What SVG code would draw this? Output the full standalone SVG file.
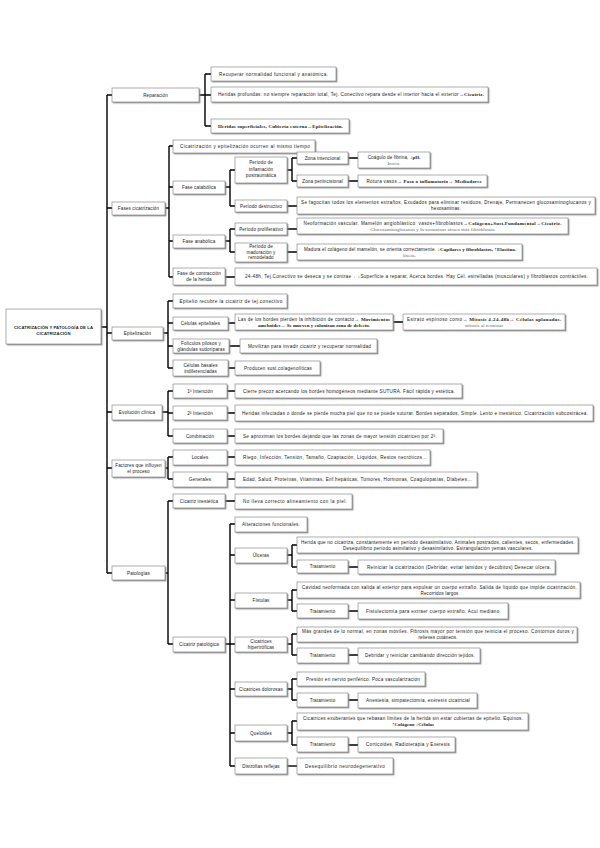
<svg xmlns="http://www.w3.org/2000/svg" width="600" height="848" viewBox="0 0 600 848">
<defs>
<filter id="sh" x="-5%" y="-20%" width="115%" height="160%">
<feDropShadow dx="1.2" dy="1.2" stdDeviation="0.5" flood-color="#888" flood-opacity="0.8"/>
</filter>
<style>
.n rect{fill:#fff;stroke:#777;stroke-width:0.6;filter:url(#sh)}
text{font-family:"Liberation Sans",Arial,sans-serif;font-size:4.6px;fill:#222;text-anchor:middle;letter-spacing:0.12px}
.s{font-family:"Liberation Serif",serif;font-weight:bold;font-size:5px;letter-spacing:0}
.g{font-family:"Liberation Serif",serif;fill:#666;font-size:4.8px}
.r{font-weight:bold;font-size:4.2px}
#conn path{stroke:#000;stroke-width:1.4;fill:none}
</style>
</defs>
<rect width="600" height="848" fill="#fff"/>
<g id="conn">
<path d="M101,327H107M107,95V573M107,95H112M107,208H112M107,333H112M107,412H112M107,468H112M107,573H112"/>
<path d="M199,95H211M205,74V126M205,74H211M205,126H211"/>
<path d="M165,208H169M169,146V277M169,146H173M169,187H173M169,241H173M169,277H173"/>
<path d="M225,187H230M230,170V206M230,170H235M230,206H235"/>
<path d="M287,170H292M292,158V181M292,158H297M292,181H297M348,158H358M348,181H358M287,206H297"/>
<path d="M225,241H230M230,229V252M230,229H235M230,252H235M287,229H297M287,252H297M225,277H235"/>
<path d="M163,333H168M168,301V368M168,301H173M168,323H173M168,346H173M168,368H173M228,323H235M393,322H403M229,346H240M228,368H235"/>
<path d="M162,412H168M168,391V436M168,391H173M168,413H173M168,436H173M227,391H235M227,413H235M227,436H235"/>
<path d="M165,468H168M168,457V479M168,457H173M168,479H173M227,457H235M227,479H235"/>
<path d="M165,573H168M168,501V644M168,501H173M168,644H173M225,501H235"/>
<path d="M225,644H230M230,524V766M230,524H235M230,555H235M230,600H235M230,644H235M230,689H235M230,733H235M230,766H235"/>
<path d="M287,555H292M292,545V567M292,545H297M292,567H297M348,567H358"/>
<path d="M287,600H292M292,590V611M292,590H297M292,611H297M348,611H358"/>
<path d="M287,644H292M292,634V655M292,634H297M292,655H297M348,655H358"/>
<path d="M287,689H292M292,679V700M292,679H297M292,700H297M348,700H358"/>
<path d="M287,733H292M292,721V745M292,721H297M292,745H297M348,745H358"/>
<path d="M287,766H297"/>
</g>
<g id="root" class="n"><rect x="6" y="309" width="95" height="35"/><text class="r" x="53.5" y="329">CICATRIZACIÓN Y PATOLOGÍA DE LA</text><text class="r" x="53.5" y="335">CICATRIZACIÓN</text></g>

<g id="reparacion" class="n"><rect x="112" y="88" width="87" height="14"/><text x="155.5" y="96.6">Reparación</text></g>
<g id="rep1" class="n"><rect x="211" y="67" width="125" height="14"/><text x="273.5" y="75.6" textLength="109">Recuperar normalidad funcional y anatómica.</text></g>
<g id="rep2" class="n"><rect x="211" y="87" width="277" height="15"/><text x="351" y="96.1" textLength="266">Heridas profundas: no siempre reparación total, Tej. Conectivo repara desde el interior hacia el exterior<tspan class="s">→Cicatriz.</tspan></text></g>
<g id="rep3" class="n"><rect x="211" y="119" width="138" height="14"/><text class="s" x="280.5" y="127.7" textLength="125">Heridas superficiales, Cubierta externa→Epitelización.</text></g>

<g id="fases" class="n"><rect x="112" y="202" width="53" height="13"/><text x="138.5" y="210.1">Fases cicatrización</text></g>
<g id="f1" class="n"><rect x="173" y="140" width="142" height="13"/><text x="245" y="148.1" textLength="130">Cicatrización y epitelización ocurren al mismo tiempo</text></g>
<g id="catabolica" class="n"><rect x="173" y="181" width="52" height="13"/><text x="199" y="189.1">Fase catabólica</text></g>
<g id="inflamacion" class="n"><rect x="235" y="157" width="52" height="26"/><text x="261" y="164">Período de</text><text x="261" y="170.5">inflamación</text><text x="261" y="177">postraumática</text></g>
<g id="zonaint" class="n"><rect x="297" y="152" width="51" height="12"/><text x="322.5" y="159.6">Zona intencional</text></g>
<g id="coagulo" class="n"><rect x="358" y="152" width="72" height="16"/><text x="394" y="158.5">Coágulo de fibrina, <tspan class="s">↓pH.</tspan></text><text class="g" x="394" y="165">Inicio.</text></g>
<g id="zonaperi" class="n"><rect x="297" y="175" width="51" height="12"/><text x="322.5" y="182.6">Zona periincisional</text></g>
<g id="rotura" class="n"><rect x="358" y="175" width="129" height="12"/><text x="424" y="182.6" textLength="115">Rotura vasos<tspan class="s">→ Paso a inflamatorio→ Mediadores</tspan></text></g>
<g id="destructivo" class="n"><rect x="235" y="200" width="52" height="12"/><text x="261" y="207.6">Período destructivo</text></g>
<g id="destr-t" class="n"><rect x="297" y="197" width="298" height="17"/><text x="446" y="203.6" textLength="290">Se fagocitan todos los elementos extraños, Exudados para eliminar residuos, Drenaje, Permanecen glucosaminoglucanos y</text><text x="446" y="210.3">hexosaminas.</text></g>
<g id="anabolica" class="n"><rect x="173" y="235" width="52" height="13"/><text x="199" y="243.1">Fase anabólica</text></g>
<g id="prolif" class="n"><rect x="235" y="223" width="52" height="12"/><text x="261" y="230.6">Período proliferativo</text></g>
<g id="prolif-t" class="n"><rect x="297" y="218" width="271" height="16"/><text x="432.5" y="224.5" textLength="258">Neoformación vascular. Mamelón angioblástico: vasos+fibroblastos<tspan class="s">→Colágeno+Sust.Fundamental→Cicatriz.</tspan></text><text class="g" x="432.5" y="231">Glucosaminoglucanos y hexosaminas atraen más fibroblastos</text></g>
<g id="maduracion" class="n"><rect x="235" y="243" width="52" height="19"/><text x="261" y="248">Período de</text><text x="261" y="253.5">maduración y</text><text x="261" y="259">remodelado</text></g>
<g id="madur-t" class="n"><rect x="297" y="244" width="225" height="16"/><text x="410" y="250.5" textLength="212">Madura el colágeno del mamelón, se orienta correctamente. <tspan class="s">↓Capilares y fibroblastos, ↑Elastina.</tspan></text><text class="g" x="409.5" y="257">líneas.</text></g>
<g id="contraccion" class="n"><rect x="173" y="268" width="52" height="17"/><text x="199" y="275">Fase de contracción</text><text x="199" y="281">de la herida</text></g>
<g id="contr-t" class="n"><rect x="235" y="268" width="362" height="17"/><text x="416.5" y="278.1" textLength="343">24-48h, Tej.Conectivo se deseca y se contrae→ ↓Superficie a reparar, Acerca bordes. Hay Cél. estrelladas (musculares) y fibroblastos contráctiles.</text></g>

<g id="epitelizacion" class="n"><rect x="112" y="327" width="51" height="13"/><text x="137.5" y="335.1">Epitelización</text></g>
<g id="e1" class="n"><rect x="173" y="294" width="114" height="14"/><text x="231" y="302.6" textLength="103">Epitelio recubre la cicatriz de tej.conectivo</text></g>
<g id="celepi" class="n"><rect x="173" y="317" width="55" height="13"/><text x="200.5" y="325.1">Células epiteliales</text></g>
<g id="bordes" class="n"><rect x="235" y="314" width="158" height="16"/><text x="314" y="320.5" textLength="152">Las de los bordes pierden la inhibición de contacto<tspan class="s">→ Movimientos</tspan></text><text class="s" x="314" y="327">ameboides→ Se mueven y colonizan zona de defecto.</text></g>
<g id="estrato" class="n"><rect x="403" y="314" width="162" height="16"/><text x="484" y="320.5" textLength="154">Estrato espinoso como<tspan class="s">→ Mitosis 4-24-48h→ Células aplanadas.</tspan></text><text class="g" x="484" y="327">mitosis al terminar</text></g>
<g id="foliculos" class="n"><rect x="173" y="339" width="56" height="14"/><text x="201" y="345">Folículos pilosos y</text><text x="201" y="350.5">glándulas sudoríparas</text></g>
<g id="moviliz" class="n"><rect x="240" y="339" width="137" height="14"/><text x="309.5" y="347.6" textLength="123">Movilizan para invadir cicatriz y recuperar normalidad</text></g>
<g id="basales" class="n"><rect x="173" y="360" width="55" height="16"/><text x="200.5" y="366.5">Células basales</text><text x="200.5" y="372.5">indiferenciadas</text></g>
<g id="producen" class="n"><rect x="235" y="361" width="85" height="14"/><text x="278" y="369.6" textLength="68">Producen sust.colagenolíticas</text></g>

<g id="evolucion" class="n"><rect x="112" y="405" width="50" height="15"/><text x="137" y="414.1">Evolución clínica</text></g>
<g id="int1" class="n"><rect x="173" y="384" width="54" height="14"/><text x="200" y="392.6">1ª Intención</text></g>
<g id="int1-t" class="n"><rect x="235" y="384" width="227" height="14"/><text x="349" y="392.6" textLength="212">Cierre precoz acercando los bordes homogéneos mediante SUTURA. Fácil rápida y estética.</text></g>
<g id="int2" class="n"><rect x="173" y="406" width="54" height="14"/><text x="200" y="414.6">2ª Intención</text></g>
<g id="int2-t" class="n"><rect x="235" y="405" width="358" height="16"/><text x="415" y="414.6" textLength="346">Heridas infectadas o donde se pierde mucha piel que no se puede suturar. Bordes separados, Simple. Lento e inestético. Cicatrización subcostrácea.</text></g>
<g id="combinacion" class="n"><rect x="173" y="429" width="54" height="14"/><text x="200" y="437.6">Combinación</text></g>
<g id="comb-t" class="n"><rect x="235" y="429" width="208" height="14"/><text x="340" y="437.6" textLength="194">Se aproximan los bordes dejando que las zonas de mayor tensión cicatricen por 2ª.</text></g>

<g id="factores" class="n"><rect x="112" y="460" width="53" height="17"/><text x="138.5" y="467">Factores que influyen</text><text x="138.5" y="473">el proceso</text></g>
<g id="locales" class="n"><rect x="173" y="450" width="54" height="15"/><text x="200" y="459.1">Locales</text></g>
<g id="locales-t" class="n"><rect x="235" y="450" width="195" height="15"/><text x="335" y="459.1" textLength="184">Riego, Infección, Tensión, Tamaño, Coaptación, Líquidos, Restos necróticos…</text></g>
<g id="generales" class="n"><rect x="173" y="472" width="54" height="15"/><text x="200" y="481.1">Generales</text></g>
<g id="generales-t" class="n"><rect x="235" y="472" width="242" height="15"/><text x="357.5" y="481.1" textLength="229">Edad, Salud, Proteínas, Vitaminas, Enf.hepáticas, Tumores, Hormonas, Coagulopatías, Diabetes…</text></g>

<g id="patologias" class="n"><rect x="112" y="566" width="53" height="14"/><text x="138.5" y="574.6">Patologías</text></g>
<g id="inestetica" class="n"><rect x="173" y="494" width="52" height="14"/><text x="199" y="502.6">Cicatriz inestética</text></g>
<g id="inest-t" class="n"><rect x="235" y="494" width="117" height="15"/><text x="295" y="503.1" textLength="104">No lleva correcto alineamiento con la piel.</text></g>
<g id="patologica" class="n"><rect x="173" y="637" width="52" height="15"/><text x="199" y="646.1">Cicatriz patológica</text></g>
<g id="alteraciones" class="n"><rect x="235" y="517" width="72" height="15"/><text x="271" y="526.1" textLength="58">Alteraciones funcionales.</text></g>
<g id="ulceras" class="n"><rect x="235" y="548" width="52" height="15"/><text x="261" y="557.1">Úlceras</text></g>
<g id="ulc-t" class="n"><rect x="297" y="537" width="281" height="16"/><text x="438" y="543.5" textLength="274">Herida que no cicatriza, constantemente en período desasimilativo. Animales postrados, calientes, secos, enfermedades.</text><text x="438" y="550" textLength="190">Desequilibrio período asimilativo y desasimilativo. Estrangulación yemas vasculares.</text></g>
<g id="ulc-tr" class="n"><rect x="297" y="560" width="51" height="13"/><text x="322.5" y="568.1">Tratamiento</text></g>
<g id="ulc-trt" class="n"><rect x="358" y="560" width="197" height="14"/><text x="459" y="568.6" textLength="184">Reiniciar la cicatrización (Debridar, evitar lamidos y decúbitos) Desecar úlcera.</text></g>
<g id="fistulas" class="n"><rect x="235" y="593" width="52" height="15"/><text x="261" y="602.1">Fístulas</text></g>
<g id="fis-t" class="n"><rect x="297" y="582" width="283" height="16"/><text x="439.5" y="588.5" textLength="275">Cavidad neoformada con salida al exterior para expulsar un cuerpo extraño. Salida de líquido que impide cicatrización.</text><text x="439.5" y="595">Recorridos largos</text></g>
<g id="fis-tr" class="n"><rect x="297" y="604" width="51" height="14"/><text x="322.5" y="612.6">Tratamiento</text></g>
<g id="fis-trt" class="n"><rect x="358" y="603" width="150" height="16"/><text x="433.5" y="612.6" textLength="135">Fistulectomía para extraer cuerpo extraño. Acui mediano.</text></g>
<g id="hipertroficas" class="n"><rect x="235" y="637" width="52" height="15"/><text x="261" y="643.3">Cicatrices</text><text x="261" y="649">hipertróficas</text></g>
<g id="hip-t" class="n"><rect x="297" y="627" width="280" height="15"/><text x="438" y="633" textLength="272">Más grandes de lo normal, en zonas móviles. Fibrosis mayor por tensión que reinicia el proceso. Contornos duros y</text><text x="438" y="639.3">relieves cutáneos.</text></g>
<g id="hip-tr" class="n"><rect x="297" y="648" width="51" height="15"/><text x="322.5" y="657.1">Tratamiento</text></g>
<g id="hip-trt" class="n"><rect x="358" y="648" width="122" height="15"/><text x="420" y="657.1" textLength="110">Debridar y reiniciar cambiando dirección tejidos.</text></g>
<g id="dolorosas" class="n"><rect x="235" y="682" width="52" height="14"/><text x="261" y="690.6">Cicatrices dolorosas</text></g>
<g id="dol-t" class="n"><rect x="297" y="672" width="128" height="14"/><text x="363" y="680.6" textLength="114">Presión en nervio periférico. Poca vascularización</text></g>
<g id="dol-tr" class="n"><rect x="297" y="693" width="51" height="14"/><text x="322.5" y="701.6">Tratamiento</text></g>
<g id="dol-trt" class="n"><rect x="358" y="693" width="119" height="15"/><text x="418" y="702.1" textLength="104">Anestesia, simpatectomía, exéresis cicatricial</text></g>
<g id="queloides" class="n"><rect x="235" y="725" width="52" height="16"/><text x="261" y="734.6">Queloides</text></g>
<g id="que-t" class="n"><rect x="297" y="713" width="231" height="17"/><text x="413" y="719.6" textLength="220">Cicatrices exuberantes que rebasan límites de la herida sin estar cubiertas de epitelio. Equinos.</text><text class="s" x="413" y="726.4">↑Colágeno ↓Células</text></g>
<g id="que-tr" class="n"><rect x="297" y="737" width="51" height="15"/><text x="322.5" y="746.1">Tratamiento</text></g>
<g id="que-trt" class="n"><rect x="358" y="737" width="97" height="15"/><text x="408" y="746.1" textLength="84">Corticoides, Radioterapia y Exéresis</text></g>
<g id="distrofias" class="n"><rect x="235" y="758" width="52" height="16"/><text x="261" y="767.6">Distrofias reflejas</text></g>
<g id="dis-t" class="n"><rect x="297" y="758" width="96" height="16"/><text x="345" y="767.6" textLength="80">Desequilibrio neurodegenerativo</text></g>
</svg>
